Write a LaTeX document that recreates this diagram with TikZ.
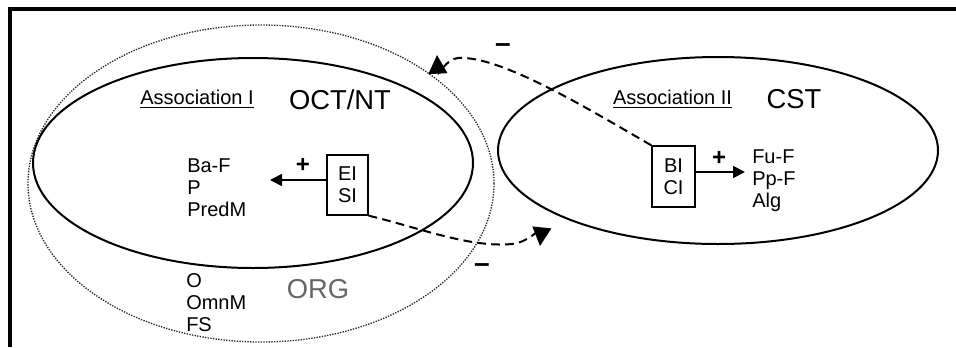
\documentclass[tikz,border=0pt]{standalone}
\usepackage{fontspec}
\setmainfont{Liberation Sans}
\usetikzlibrary{arrows.meta,shapes.geometric}
\begin{document}
\begin{tikzpicture}[x=0.75pt,y=-0.75pt,
 lbl/.style={inner sep=0pt, font=\fontsize{15}{16.5}\selectfont},
 listtxt/.style={lbl, align=left, anchor=west},
 bigtxt/.style={inner sep=0pt, font=\fontsize{20.5}{22}\selectfont},
 asstxt/.style={inner sep=0pt, font=\fontsize{15}{16}\selectfont},
 signtxt/.style={inner sep=0pt, font=\bfseries\fontsize{18}{20}\selectfont},
 minustxt/.style={inner sep=0pt, font=\bfseries\fontsize{21}{22}\selectfont},
 ell/.style={draw, ellipse, line width=1.5pt, inner sep=0pt},
 outerell/.style={draw=black!85, ellipse, densely dotted, line width=1pt, inner sep=0pt},
 ibox/.style={draw, line width=1pt, align=center, lbl},
 dasharrow/.style={line width=1.5pt, dash pattern=on 6.5pt off 4pt, -{Triangle[length=14pt,width=14pt]}},
 plusarrow/.style={line width=1.3pt, -{Triangle[length=9pt,width=9pt]}}
]
\useasboundingbox (0,0) rectangle (956,347);
% frame
\coordinate (fbl) at (10,347);
\coordinate (ftl) at (10,9);
\coordinate (ftr) at (956,9);
\draw[line width=2.4pt] (fbl) -- (ftl) -- (ftr);

% ellipses
\node[outerell, minimum width=349.5pt, minimum height=237.75pt] (org) at (261,183.5) {};
\node[ell, minimum width=330pt, minimum height=157.5pt] (oct) at (253,163) {};
\node[ell, minimum width=330pt, minimum height=140.25pt] (cst) at (718,150.5) {};

% titles
\node[asstxt] (as1) at (197,99) {\underline{Association I}};
\node[bigtxt] (octnt) at (340,100) {OCT/NT};
\node[asstxt] (as2) at (672.5,99) {\underline{Association II}};
\node[bigtxt] (csttxt) at (794,99) {CST};
\node[bigtxt, text=black!60] (orgtxt) at (318,289) {ORG};

% lists
\node[listtxt] (l1) at (187,188) {Ba-F\\P\\PredM};
\node[listtxt] (l2) at (186,303) {O\\OmnM\\FS};
\node[listtxt] (l3) at (752,181) {Fu-F\\Pp-F\\Alg};

% boxes
\node[ibox, minimum width=30.75pt, minimum height=45pt] (eisi) at (347.5,185) {EI\\SI};
\node[ibox, minimum width=32.25pt, minimum height=45.75pt] (bici) at (673.5,176.5) {BI\\CI};

% solid arrows
\coordinate (tipL) at (270,180);
\coordinate (tipR) at (745,172);
\draw[plusarrow] (eisi.west |- tipL) -- (tipL);
\draw[plusarrow] (bici.east |- tipR) -- (tipR);
\node[signtxt] (p1) at (303,165) {+};
\node[signtxt] (p2) at (719,158) {+};

% dashed arrows
\coordinate (dtip1) at (437,55);
\coordinate (dtip2) at (540,246);
\draw[dasharrow] (bici.north west) .. controls (590,110) and (500,55) .. (458,58)
   .. controls (446,59) and (438,76) .. (dtip1);
\draw[dasharrow] (eisi.south east) .. controls (420,228) and (470,248) .. (512,244)
   .. controls (530,242) and (542,226) .. (dtip2);
\node[minustxt] (m1) at (503,48) {--};
\node[minustxt] (m2) at (482,268) {--};
\end{tikzpicture}
\end{document}
